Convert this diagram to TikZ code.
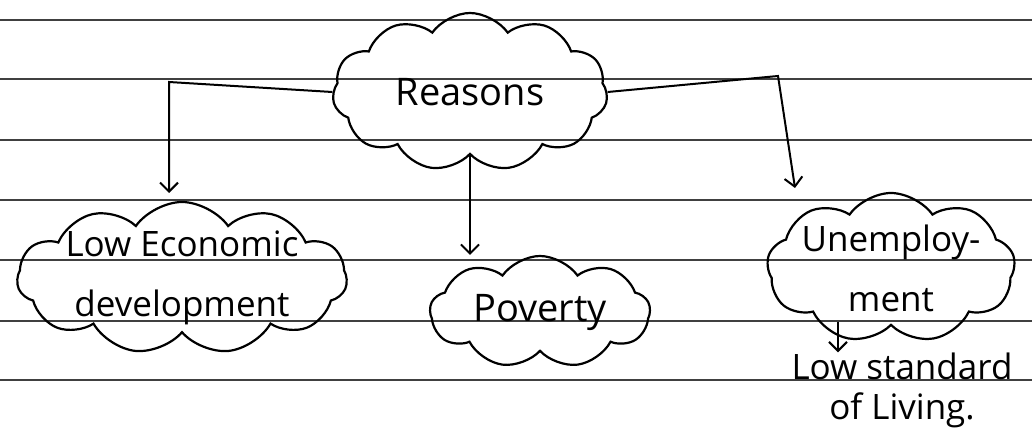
\documentclass[tikz,border=0pt]{standalone}
\usepackage{fontspec}
\setmainfont{Open Sans}
\usetikzlibrary{shapes.symbols,arrows.meta}
\tikzset{
  rule/.style={draw=black!75, line width=2pt},
  thought/.style={cloud, cloud ignores aspect, draw=black, line width=2.2pt, cloud puffs=11, cloud puff arc=110,
    align=center, inner sep=0pt, font=\fontsize{38}{60}\selectfont},
  tight/.style={font=\fontsize{35}{60}\selectfont, inner xsep=-16pt, inner ysep=-8pt},
  link/.style={draw=black, line width=2pt, -{Straight Barb[length=9pt,width=18pt,line width=2pt]}},
  plain/.style={align=center, inner sep=0pt, font=\fontsize{35}{40}\selectfont}
}
\begin{document}
\begin{tikzpicture}[x=1pt,y=-1pt]
\useasboundingbox (0,0) rectangle (1032,430);
\fill[white] (0,0) rectangle (1032,430);
% ruled paper lines
\foreach \yy in {20,79,140,200,260,321,380}
  \draw[rule] (0,\yy) -- (1032,\yy);
% clouds
\node[thought, minimum width=275pt, minimum height=158pt] (reasons) at (470,92) {Reasons};
\node[thought, tight, minimum width=330pt, minimum height=152pt] (econ) at (182,278) {Low Economic\\development};
\node[thought, minimum width=220pt, minimum height=112pt, cloud puffs=9] (poverty) at (540,312) {Poverty};
\node[thought, tight, minimum width=248pt, minimum height=150pt, cloud puffs=9] (unemp) at (891,268) {Unemploy-\\ment};
\node[plain] (living) at (902,390) {Low standard\\of Living.};
% connectors
\coordinate (lc) at (169,82);
\coordinate (et) at (169,193);
\coordinate (rc) at (778,76);
\coordinate (ut) at (795,188);
\coordinate (ub) at (838,322);
\draw[link] (reasons.west) -- (lc) -- (et);
\draw[link] (reasons.east) -- (rc) -- (ut);
\draw[link] (reasons.south) -- (reasons.south |- poverty.north);
\draw[link] (ub) -- (ub |- living.north);
\end{tikzpicture}
\end{document}
